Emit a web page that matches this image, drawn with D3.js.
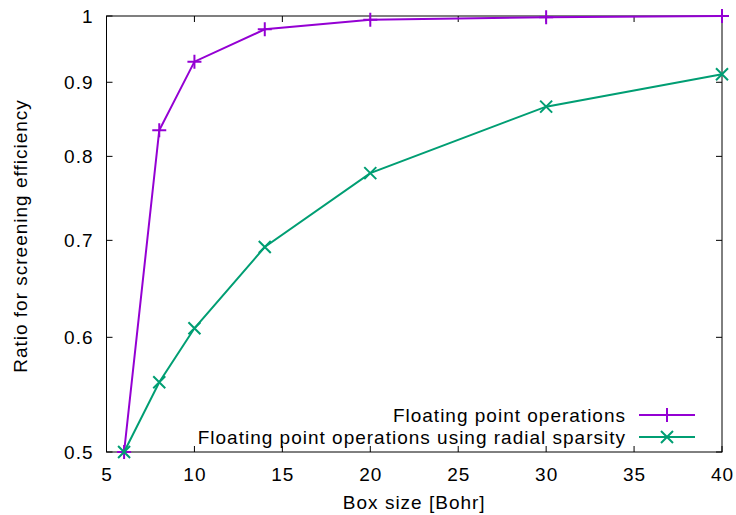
<!DOCTYPE html>
<html>
<head>
<meta charset="utf-8">
<script src="https://cdn.jsdelivr.net/npm/d3@7"></script>
<style>
  body { margin: 0; background: #fff; }
  text { font-family: "Liberation Sans", Arial, sans-serif; fill: #000; font-size: 19px; letter-spacing: 1px; }
</style>
</head>
<body>
<svg id="chart" width="736" height="515"></svg>
<script>
var boxSize = [6, 8, 10, 14, 20, 30, 40];
var flops = [0.5, 0.834, 0.930, 0.979, 0.994, 0.998, 1.0];
var flopsRadial = [0.5, 0.5586, 0.6087, 0.6926, 0.779, 0.8658, 0.9116];
var xTicks = [5, 10, 15, 20, 25, 30, 35, 40];
var yTicks = [0.5, 0.6, 0.7, 0.8, 0.9, 1];
var seriesNames = ['Floating point operations', 'Floating point operations using radial sparsity'];
var seriesColors = ['#9400d3', '#009e73'];

var svg = d3.select('#chart');
var plotLeft = 106.5, plotRight = 722, plotTop = 16, plotBottom = 452;

var x = d3.scaleLinear().domain([5, 40]).range([plotLeft, plotRight]);
var y = d3.scaleLog().domain([0.5, 1]).range([plotBottom, plotTop]);

var fmt = d3.format('');

// ticks (gnuplot style, inward, mirrored)
var tl = 6;
var g = svg.append('g');
xTicks.forEach(function(t) {
    g.append('line').attr('x1', x(t)).attr('x2', x(t)).attr('y1', plotBottom).attr('y2', plotBottom - tl).attr('stroke', '#000');
    g.append('line').attr('x1', x(t)).attr('x2', x(t)).attr('y1', plotTop).attr('y2', plotTop + tl).attr('stroke', '#000');
    g.append('text').attr('x', x(t) + 0.5).attr('y', 481).attr('text-anchor', 'middle').text(fmt(t));
});
yTicks.forEach(function(t) {
    g.append('line').attr('x1', plotLeft).attr('x2', plotLeft + tl).attr('y1', y(t)).attr('y2', y(t)).attr('stroke', '#000');
    g.append('line').attr('x1', plotRight).attr('x2', plotRight - tl).attr('y1', y(t)).attr('y2', y(t)).attr('stroke', '#000');
    g.append('text').attr('x', plotLeft - 13).attr('y', y(t) + 7).attr('text-anchor', 'end').text(fmt(t));
});

svg.append('rect').attr('x', plotLeft).attr('y', plotTop).attr('width', plotRight - plotLeft).attr('height', plotBottom - plotTop)
    .attr('fill', 'none').attr('stroke', '#000').attr('stroke-width', 1);

// axis labels
svg.append('text').attr('x', (plotLeft + plotRight) / 2).attr('y', 509).attr('text-anchor', 'middle')
    .text('Box size [Bohr]');
svg.append('text').attr('transform', 'translate(27,236) rotate(-90)')
    .attr('text-anchor', 'middle').text('Ratio for screening efficiency');

function plusPath(cx, cy, s) {
    return 'M' + (cx - s) + ',' + cy + 'H' + (cx + s) + 'M' + cx + ',' + (cy - s) + 'V' + (cy + s);
}
function crossPath(cx, cy, s) {
    return 'M' + (cx - s) + ',' + (cy - s) + 'L' + (cx + s) + ',' + (cy + s) +
        'M' + (cx - s) + ',' + (cy + s) + 'L' + (cx + s) + ',' + (cy - s);
}
var markers = [plusPath, crossPath];
var markerSize = [7, 6];

var line = d3.line().x(function(d) { return x(d[0]); }).y(function(d) { return y(d[1]); });
[flops, flopsRadial].forEach(function(vals, i) {
    var pts = boxSize.map(function(b, j) { return [b, vals[j]]; });
    svg.append('path').datum(pts).attr('d', line).attr('fill', 'none')
        .attr('stroke', seriesColors[i]).attr('stroke-width', 2);
    svg.selectAll('.m' + i).data(pts).enter().append('path').attr('class', 'm' + i)
        .attr('d', function(d) { return markers[i](x(d[0]), y(d[1]), markerSize[i]); })
        .attr('stroke', seriesColors[i]).attr('stroke-width', 2).attr('fill', 'none');
});

// legend
var legY = [415, 437];
seriesNames.forEach(function(name, i) {
    svg.append('text').attr('x', 626).attr('y', legY[i] + 7).attr('text-anchor', 'end').text(name);
    svg.append('line').attr('x1', 639).attr('x2', 695).attr('y1', legY[i]).attr('y2', legY[i])
        .attr('stroke', seriesColors[i]).attr('stroke-width', 2);
    svg.append('path').attr('d', markers[i](667, legY[i], markerSize[i]))
        .attr('stroke', seriesColors[i]).attr('stroke-width', 2).attr('fill', 'none');
});
</script>
</body>
</html>
